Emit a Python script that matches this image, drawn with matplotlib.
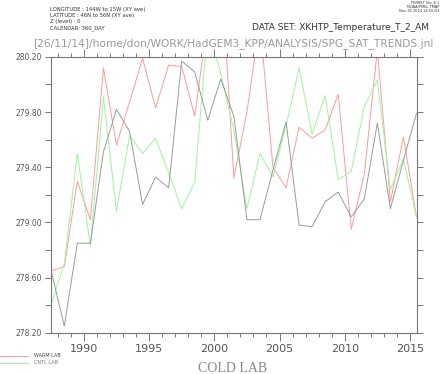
import matplotlib.pyplot as plt
import numpy as np

# annual means, years 1987.5 .. 2015.5
years = np.arange(1987.5, 2016.0, 1.0)
warm = [278.65, 278.68, 279.30, 279.02, 280.12, 279.56, 279.87, 280.19, 279.83, 280.14,
        280.13, 279.77, 280.47, 280.89, 279.32, 279.80, 280.45, 279.40, 279.25, 279.69,
        279.61, 279.67, 279.93, 278.95, 279.35, 280.25, 279.15, 279.62, 279.04]
cntl = [278.41, 278.70, 279.50, 278.83, 279.91, 279.08, 279.63, 279.50, 279.61, 279.36,
        279.10, 279.29, 280.42, 280.08, 279.67, 279.10, 279.50, 279.33, 279.70, 280.12,
        279.64, 279.92, 279.31, 279.37, 279.84, 280.03, 279.24, 279.46, 279.04]
cold = [278.645, 278.25, 278.85, 278.85, 279.51, 279.82, 279.66, 279.13, 279.33, 279.25,
        280.17, 280.09, 279.74, 280.04, 279.77, 279.02, 279.02, 279.38, 279.73, 278.98,
        278.97, 279.15, 279.22, 279.04, 279.17, 279.72, 279.10, 279.45, 279.79]

red = '#ff9a9a'
green = '#9cf59c'
grey = '#9a9a9a'
txt = '#555555'

fig = plt.figure(figsize=(4.4, 3.74), dpi=100)
ax = fig.add_axes([0.115, 0.110, 0.833, 0.738])

ax.plot(years, warm, color=red, lw=0.7)
ax.plot(years, cntl, color=green, lw=0.7)
ax.plot(years, cold, color=grey, lw=0.7)

ax.set_xlim(1987.45, 2015.55)
ax.set_ylim(278.2, 280.2)

ax.set_xticks(np.arange(1990, 2016, 5))
ax.set_xticks(np.arange(1988, 2016, 1), minor=True)
ax.set_yticks(np.arange(278.2, 280.21, 0.4))
ax.set_yticks(np.arange(278.4, 280.2, 0.4), minor=True)
ax.set_yticklabels(['%.2f' % v for v in np.arange(278.2, 280.21, 0.4)])

for s in ax.spines.values():
    s.set_color('#777777')
    s.set_linewidth(0.8)
ax.tick_params(axis='both', which='both', direction='out', top=True, right=True,
               color='#777777', width=0.7)
ax.tick_params(axis='x', which='major', length=6, labelsize=8, labelcolor=txt, pad=2)
ax.tick_params(axis='x', which='minor', length=3)
ax.tick_params(axis='y', which='both', length=4, labelsize=5.5, labelcolor=txt, pad=2)

# header texts
hdr = ['LONGITUDE : 144W to 15W (XY ave)', 'LATITUDE : 46N to 56N (XY ave)',
       'Z (level) : 0', 'CALENDAR: 360_DAY']
for k, s in enumerate(hdr):
    fig.text(50 / 440, 1 - (10 + 6 * k) / 374, s, fontsize=3.8, color='#333333', va='center')
ferret = ['FERRET Ver. 6.1', 'NOAA/PMEL TMAP', 'Nov 26 2014 14:55:01']
for k, s in enumerate(ferret):
    fig.text(439 / 440, 1 - (2.5 + 4 * k) / 374, s, fontsize=2.6, color='#333333',
             ha='right', va='center')
fig.text(252 / 440, 1 - 27 / 374, 'DATA SET: XKHTP_Temperature_T_2_AM', fontsize=6.5,
         color='#333333', va='center')
fig.text(33 / 440, 1 - 44 / 374,
         '[26/11/14]/home/don/WORK/HadGEM3_KPP/ANALYSIS/SPG_SAT_TRENDS.jnl',
         fontsize=7.7, color='#999999', va='center')

# legend lines
fig.add_artist(plt.Line2D([0, 28 / 440], [1 - 355.7 / 374] * 2, color=red, lw=0.7))
fig.add_artist(plt.Line2D([0, 28 / 440], [1 - 362.7 / 374] * 2, color=green, lw=0.7))
fig.text(34 / 440, 1 - 355.7 / 374, 'WARM LAB', fontsize=3.5, color='#444444', va='center')
fig.text(34 / 440, 1 - 362.7 / 374, 'CNTL LAB', fontsize=3.5, color='#777777', va='center')
fig.text(233 / 440, 1 - 368 / 374, 'COLD LAB', fontsize=10, family='Liberation Serif',
         color='#888888', ha='center', va='center')

plt.savefig('out.png', dpi=100)
